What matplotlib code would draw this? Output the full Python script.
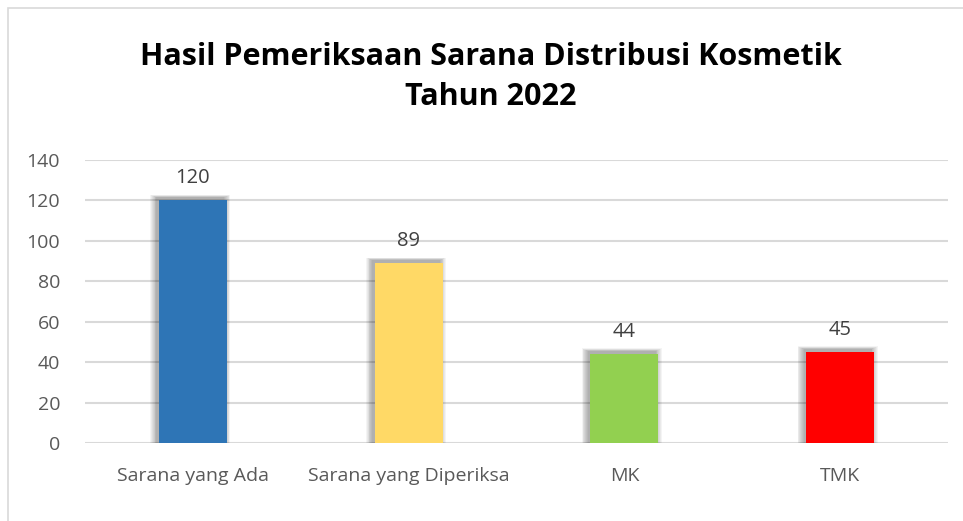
import matplotlib
matplotlib.use("Agg")
import matplotlib.pyplot as plt
from matplotlib.patches import Rectangle

# data
categories = ["Sarana yang Ada", "Sarana yang Diperiksa", "MK", "TMK"]
values = [120, 89, 44, 45]
colors = ["#2E75B6", "#FFD966", "#92D050", "#FF0000"]
yticks = [0, 20, 40, 60, 80, 100, 120, 140]

plt.rcParams["font.family"] = ["Open Sans", "DejaVu Sans"]

fig = plt.figure(figsize=(9.63, 5.21), dpi=100)
ax = fig.add_axes([85 / 963, 1 - 443 / 521, (948 - 85) / 963, (443 - 160) / 521])

# outer frame of the chart area
fig.patches.append(Rectangle((8 / 963, -0.1), 1.2, (521 - 8) / 521 + 0.1,
                             transform=fig.transFigure, fill=False,
                             edgecolor="#D9D9D9", linewidth=1.2))

x = list(range(len(categories)))
width = 0.315

# soft blurred shadow, shifted up-left
dx = 0.012   # ~3px
dy = 1.5
for step in range(8):
    grow = 0.004 * step
    ax.bar([k - dx for k in x], [v + dy + grow * 45 for v in values],
           width=width + 2 * grow, color="black", alpha=0.045, zorder=2, linewidth=0)

ax.bar(x, values, width=width, color=colors, zorder=3, linewidth=0)

for k, v in zip(x, values):
    ax.text(k, v + 6, str(v), ha="center", va="bottom", fontsize=14.5, color="#404040")

ax.set_xlim(-0.5, 3.5)
ax.set_ylim(0, 140)
ax.set_yticks(yticks)
ax.set_xticks(x)
ax.set_xticklabels(categories)
ax.tick_params(axis="both", length=0, labelsize=14, labelcolor="#595959")
ax.tick_params(axis="x", pad=17)
ax.tick_params(axis="y", pad=18)
ax.grid(axis="y", color="#D9D9D9", linewidth=1.5, zorder=0)
ax.set_axisbelow(True)
for s in ax.spines.values():
    s.set_visible(False)

fig.text(491 / 963, 1 - 77 / 521, "Hasil Pemeriksaan Sarana Distribusi Kosmetik\nTahun 2022",
         ha="center", va="center", fontsize=22, fontweight="bold", color="black",
         linespacing=1.45)

fig.savefig("out.png", dpi=100, facecolor="white")
